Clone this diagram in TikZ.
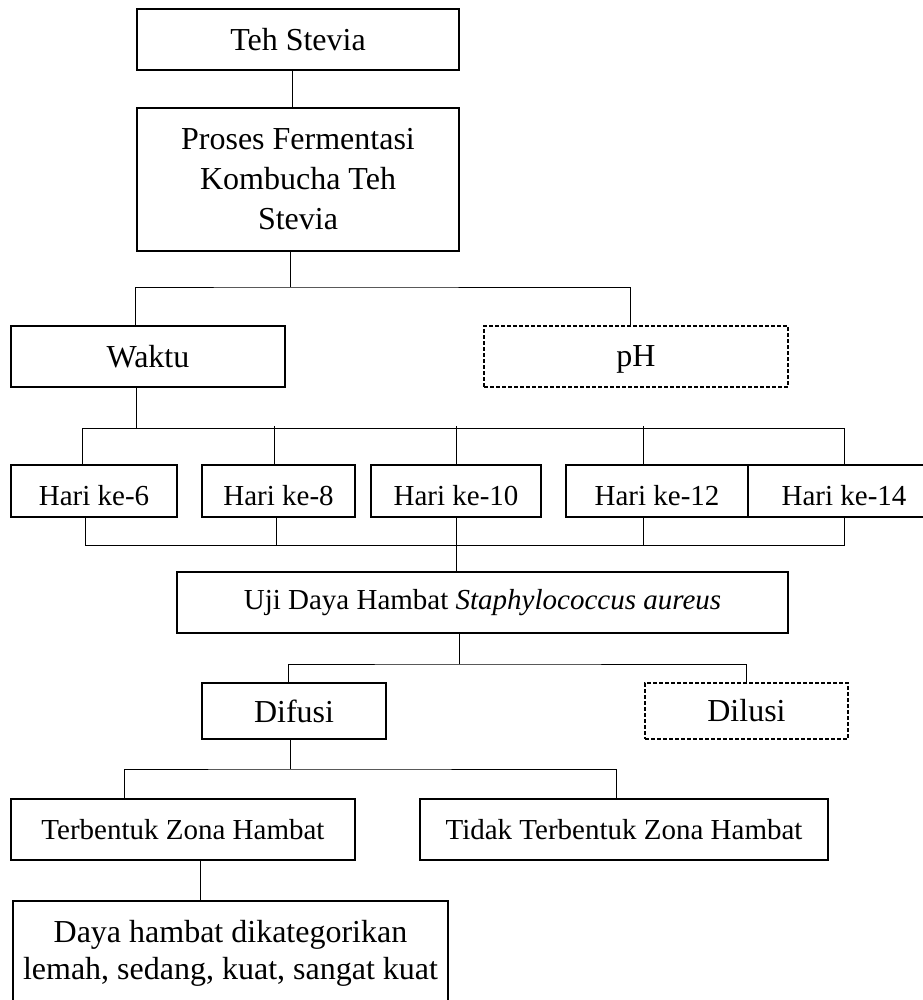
\documentclass[tikz,border=0pt]{standalone}
\usepackage{fontspec}
\setmainfont{Liberation Serif}
\usetikzlibrary{positioning}

\begin{document}
\begin{tikzpicture}[
    x=0.5pt, y=-0.5pt,
    box/.style={rectangle, draw=black, line width=1pt, align=center, inner sep=0pt},
    dashbox/.style={box, line width=0.6pt, dash pattern=on 2pt off 1pt},
    big/.style={font=\fontsize{16}{20}\selectfont},
    small/.style={font=\fontsize{14.5}{18}\selectfont},
    hari/.style={box, small, minimum height=26pt, text height=14pt, text depth=0pt},
    link/.style={line width=0.5pt}
  ]
    \useasboundingbox (0,0) rectangle (922,1000);

    \node[box, big, minimum width=161pt, minimum height=30.5pt] (teh) at (298,39.5) {Teh Stevia};
    \node[box, big, minimum width=161pt, minimum height=71.5pt] (proses) at (298,179.5) {Proses Fermentasi\\Kombucha Teh\\Stevia};

    \node[box, big, minimum width=137pt, minimum height=30.5pt] (waktu) at (148,356.5) {Waktu};
    \node[dashbox, big, minimum width=152pt, minimum height=30.5pt, text height=10pt, text depth=0pt] (ph) at (636,356.5) {pH};

    \node[hari, minimum width=83pt] (hari6) at (94,491) {Hari ke-6};
    \node[hari, minimum width=76.5pt] (hari8) at (278.5,491) {Hari ke-8};
    \node[hari, minimum width=85pt] (hari10) at (456,491) {Hari ke-10};
    \node[hari, minimum width=91pt] (hari12) at (657,491) {Hari ke-12};
    \node[hari, minimum width=96pt] (hari14) at (844,491) {Hari ke-14};

    \node[box, small, minimum width=305.5pt, minimum height=30.5pt] (uji) at (482.5,602.5) {Uji Daya Hambat \textit{Staphylococcus aureus}};

    \node[box, big, minimum width=92pt, minimum height=28pt] (difusi) at (294,711) {Difusi};
    \node[dashbox, big, minimum width=101.5pt, minimum height=28pt] (dilusi) at (746.5,711) {Dilusi};

    \node[box, small, minimum width=172pt, minimum height=30.5pt] (terb) at (183,829.5) {Terbentuk Zona Hambat};
    \node[box, small, minimum width=204pt, minimum height=30.5pt] (tidak) at (624,829.5) {Tidak Terbentuk Zona Hambat};

    \node[box, font=\fontsize{16}{18.5}\selectfont, minimum width=217.5pt, minimum height=52pt] (daya) at (230.5,953) {Daya hambat dikategorikan\\lemah, sedang, kuat, sangat kuat};

    \draw[link] ([xshift=-3pt]teh.south) -- ([xshift=-3pt]proses.north);
    \draw[link] ([xshift=-4pt]proses.south) -- ++(0,35) coordinate (b1);
    \draw[link] ([xshift=-6.5pt]waktu.north) |- (b1) -| ([xshift=-3pt]ph.north);

    \draw[link] ([xshift=-6pt]waktu.south) -- ++(0,40) coordinate (b2);
    \draw[link] ([xshift=-6pt]hari6.north) |- (hari14.north |- b2) -- (hari14.north);
    \foreach \n/\s in {hari8/-2pt, hari10/0pt, hari12/-7pt}
      \draw[link] ([xshift=\s]\n.north) -- ++(0,-38);

    \path (hari10.south) ++(0,27) coordinate (b3);
    \draw[link] ([xshift=-4.5pt]hari6.south) |- (hari14.south |- b3) -- (hari14.south);
    \foreach \n/\s in {hari8/-1.25pt, hari12/-7pt}
      \draw[link] ([xshift=\s]\n.south) -- ++(0,27);
    \draw[link] (hari10.south) -- (hari10.south |- uji.north);

    \draw[link] ([xshift=-11.75pt]uji.south) -- ++(0,30) coordinate (b4);
    \draw[link] ([xshift=-3pt]difusi.north) |- (b4) -| (dilusi.north);

    \draw[link] ([xshift=-2pt]difusi.south) -- ++(0,29) coordinate (b5);
    \draw[link] ([xshift=-29.5pt]terb.north) |- (b5) -| ([xshift=-4pt]tidak.north);
    \draw[link] ([xshift=8.5pt]terb.south) -- ++(0,41);
\end{tikzpicture}
\end{document}
